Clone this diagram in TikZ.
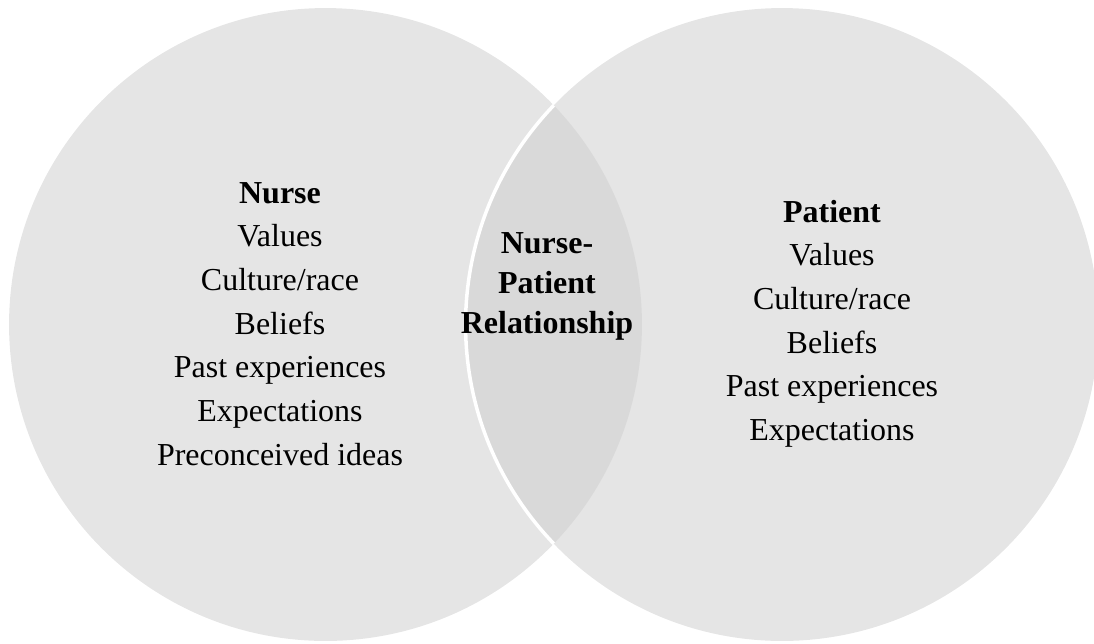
\documentclass[tikz,border=0pt]{standalone}
\usepackage{fontspec}
\setmainfont{Liberation Serif}
\usepackage{tikz}
\definecolor{setgray}{HTML}{E5E5E5}
\definecolor{lensgray}{HTML}{D9D9D9}
\tikzset{
	every set/.style={
		circle,
		fill=setgray,
		inner sep=0pt,
		minimum size=12.66cm
	},
	set label/.style={
		anchor=base,
		inner sep=0pt,
		font=\fontsize{18.2}{22}\selectfont
	},
	set title/.style={
		set label,
		font=\fontsize{18.2}{22}\selectfont\bfseries
	},
}
\begin{document}
\begin{tikzpicture}[x=0.02cm, y=-0.02cm]

\useasboundingbox (0,0) rectangle (1094,643);

\node [every set] (nurse-set) at (325.5,324.5) {};
\node [every set] (patient-set) at (782,324.5) {};

% shared part, with a white rim along the patient set
\begin{scope}
	\clip (nurse-set.center) circle (6.33cm);
	\fill [lensgray] (patient-set.center) circle (6.33cm);
	\draw [white, line width=0.07cm] (patient-set.center) circle (6.33cm);
\end{scope}

\node [set title] (nurse-0) at (280,203) {Nurse};
\foreach \l [count=\i] in {Values, {Culture/race}, Beliefs, Past experiences, Expectations, Preconceived ideas}
	\node [set label] (nurse-\i) at (280,203+43.7*\i) {\l};

\node [set title] (patient-0) at (832,222) {Patient};
\foreach \l [count=\i] in {Values, {Culture/race}, Beliefs, Past experiences, Expectations}
	\node [set label] (patient-\i) at (832,222+43.7*\i) {\l};

\foreach \l [count=\i from 0] in {Nurse-, Patient, Relationship}
	\node [set title] (shared-\i) at (547,253+40*\i) {\l};

\end{tikzpicture}
\end{document}
